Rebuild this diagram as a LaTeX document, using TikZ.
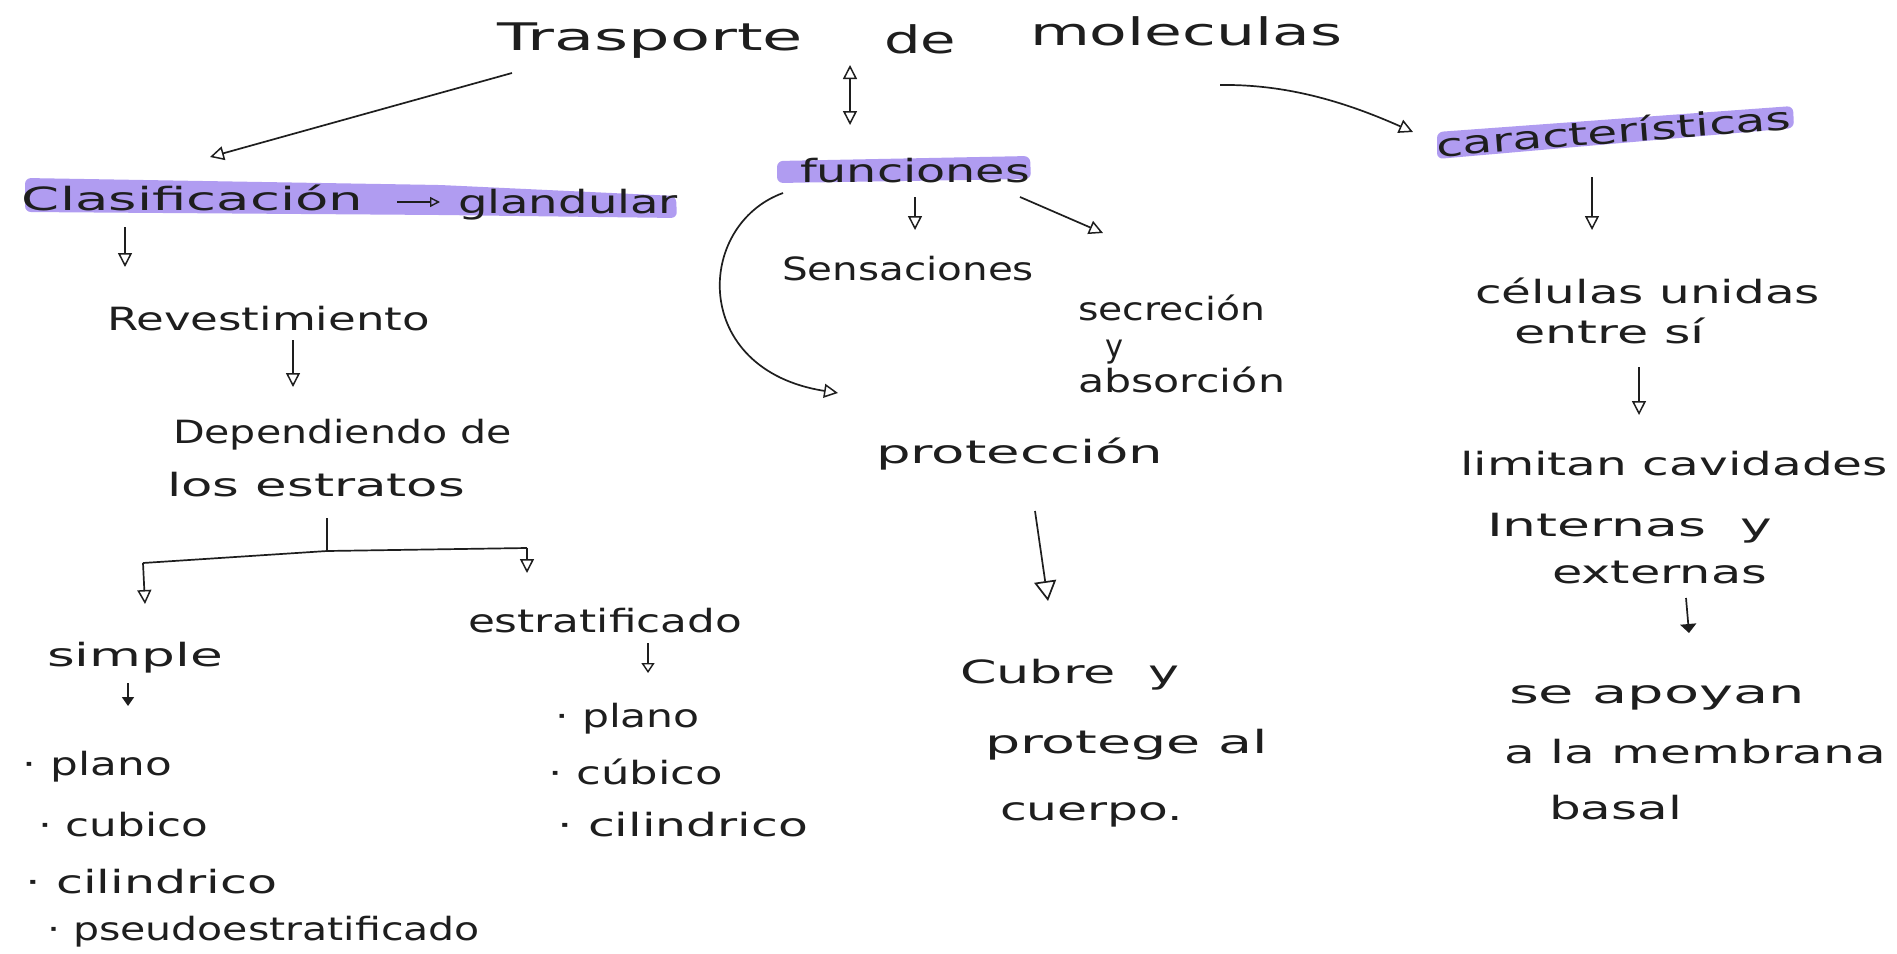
\documentclass[tikz,border=0pt]{standalone}
\usepackage{fontspec}
\setmainfont{DejaVu Sans}
\usetikzlibrary{arrows.meta}
\definecolor{ink}{RGB}{30,30,30}
\definecolor{hl}{RGB}{168,146,240}
\newcommand\fw[2]{\resizebox{#1pt}{\height}{#2}}
\tikzset{
  hw/.style={anchor=base west, inner sep=0pt, outer sep=0pt, text=ink, font=\fontsize{32}{38}\selectfont},
  big/.style={hw, font=\fontsize{38}{44}\selectfont},
  tip/.tip={Triangle[open,length=14pt,width=14pt,line width=1.5pt]},
  bigtip/.tip={Triangle[open,length=20pt,width=22pt,line width=1.7pt]},
  arr/.style={draw=ink, line width=1.7pt, -tip},
  darr/.style={draw=ink, line width=1.7pt, tip-tip},
  ln/.style={draw=ink, line width=1.7pt},
  hilite/.style={fill=hl, draw=none, rounded corners=6pt, opacity=0.9}
}
\begin{document}
\begin{tikzpicture}[x=1pt,y=-1pt]
\useasboundingbox (0,0) rectangle (1897,953);
\fill[white] (0,0) rectangle (1897,953);

% highlights
\fill[hilite] (25,178) -- (440,185) -- (676,196) -- (677,218) -- (440,215) -- (25,212) -- cycle;
\fill[hilite] (777,161) -- (1030,156) -- (1031,179) -- (777,183) -- cycle;
\fill[hilite] (1437,132) -- (1793,106) -- (1794,128) -- (1437,159) -- cycle;

% title
\node[big] (t1) at (497,50) {\fw{306}{Trasporte}};
\node[big] (t2) at (884,53) {\fw{72}{de}};
\node[big] (t3) at (1030,45) {\fw{312}{moleculas}};

% main headings
\node[hw] (clas) at (22,210) {\fw{341}{Clasificación}};
\node[hw] (gland) at (458,213) {\fw{220}{glandular}};
\node[hw] (fun) at (800,182) {\fw{230}{funciones}};
\node[hw, rotate=4.5] (car) at (1437,157) {\fw{356}{características}};

% left branch
\node[hw] (rev) at (107,330) {\fw{323}{Revestimiento}};
\node[hw] (dep1) at (173,443) {\fw{339}{Dependiendo de}};
\node[hw] (dep2) at (167,496) {\fw{298}{los estratos}};
\node[hw] (simp) at (47,666) {\fw{176}{simple}};
\node[hw] (estr) at (468,632) {\fw{274}{estratificado}};
\node[hw] (s1) at (23,775) {\fw{149}{· plano}};
\node[hw] (s2) at (38,836) {\fw{170}{· cubico}};
\node[hw] (s3) at (25,893) {\fw{252}{· cilindrico}};
\node[hw] (s4) at (47,940) {\fw{433}{· pseudoestratificado}};
\node[hw] (e1) at (555,727) {\fw{145}{· plano}};
\node[hw] (e2) at (548,784) {\fw{175}{· cúbico}};
\node[hw] (e3) at (557,836) {\fw{251}{· cilindrico}};

% middle branch
\node[hw] (sen) at (782,280) {\fw{252}{Sensaciones}};
\node[hw] (sec1) at (1078,320) {\fw{187}{secreción}};
\node[hw] (sec2) at (1105,357) {\fw{18}{y}};
\node[hw] (sec3) at (1078,392) {\fw{207}{absorción}};
\node[hw] (prot) at (876,463) {\fw{287}{protección}};
\node[hw] (cub1) at (960,683) {\fw{220}{Cubre\ \ y}};
\node[hw] (cub2) at (985,753) {\fw{283}{protege al}};
\node[hw] (cub3) at (1000,820) {\fw{183}{cuerpo.}};

% right branch
\node[hw] (cel1) at (1475,303) {\fw{345}{células unidas}};
\node[hw] (cel2) at (1514,343) {\fw{191}{entre sí}};
\node[hw] (lim1) at (1460,475) {\fw{428}{limitan cavidades}};
\node[hw] (lim2) at (1487,536) {\fw{285}{Internas\ \ y}};
\node[hw] (lim3) at (1552,583) {\fw{215}{externas}};
\node[hw] (apo1) at (1509,703) {\fw{296}{se apoyan}};
\node[hw] (apo2) at (1504,763) {\fw{382}{a la membrana}};
\node[hw] (apo3) at (1549,819) {\fw{133}{basal}};

% connector end points
\coordinate (a1s) at (512,73);   \coordinate (a1e) at (210,157);
\coordinate (a2s) at (850,65);   \coordinate (a2e) at (850,125);
\coordinate (a3s) at (1220,85);  \coordinate (a3e) at (1413,132);
\coordinate (a4s) at (125,227);  \coordinate (a4e) at (125,267);
\coordinate (a5s) at (397,202);  \coordinate (a5e) at (440,202);
\coordinate (a6s) at (293,340);  \coordinate (a6e) at (293,387);
\coordinate (tk) at (327,518);   \coordinate (tj) at (327,551);
\coordinate (tl) at (143,563);   \coordinate (tle) at (145,604);
\coordinate (tr) at (527,548);   \coordinate (tre) at (527,573);
\coordinate (a8s) at (128,683);  \coordinate (a8e) at (128,706);
\coordinate (a9s) at (648,643);  \coordinate (a9e) at (648,673);
\coordinate (b1s) at (915,197);  \coordinate (b1e) at (915,230);
\coordinate (b2s) at (1020,197); \coordinate (b2e) at (1103,233);
\coordinate (b3s) at (783,193);  \coordinate (b3e) at (838,393);
\coordinate (b4s) at (1035,511); \coordinate (b4e) at (1048,601);
\coordinate (c1s) at (1592,177); \coordinate (c1e) at (1592,230);
\coordinate (c2s) at (1639,367); \coordinate (c2e) at (1639,415);
\coordinate (c3s) at (1686,598); \coordinate (c3e) at (1689,633);

% connectors
\draw[arr] (a1s) -- (a1e);
\draw[darr] (a2s) -- (a2e);
\draw[arr] (a3s) .. controls (1290,84) and (1350,104) .. (a3e);
\draw[arr] (a4s) -- (a4e);
\draw[arr, -{Triangle[open,length=10pt,width=10pt,line width=1.4pt]}] (a5s) -- (a5e);
\draw[arr] (a6s) -- (a6e);
\draw[ln] (tk) -- (tj);
\draw[ln] (tl) -- (tj) -- (tr);
\draw[arr] (tl) -- (tle);
\draw[arr] (tr) -- (tre);
\draw[arr, -{Triangle[length=9pt,width=12pt]}] (a8s) -- (a8e);
\draw[arr, -{Triangle[open,length=10pt,width=13pt,line width=1.4pt]}] (a9s) -- (a9e);
\draw[arr] (b1s) -- (b1e);
\draw[arr] (b2s) -- (b2e);
\draw[arr] (b3s) .. controls (695,225) and (690,370) .. (b3e);
\draw[draw=ink, line width=1.7pt, -bigtip] (b4s) -- (b4e);
\draw[arr] (c1s) -- (c1e);
\draw[arr] (c2s) -- (c2e);
\draw[arr, -{Triangle[length=9pt,width=16pt]}] (c3s) -- (c3e);
\end{tikzpicture}
\end{document}
